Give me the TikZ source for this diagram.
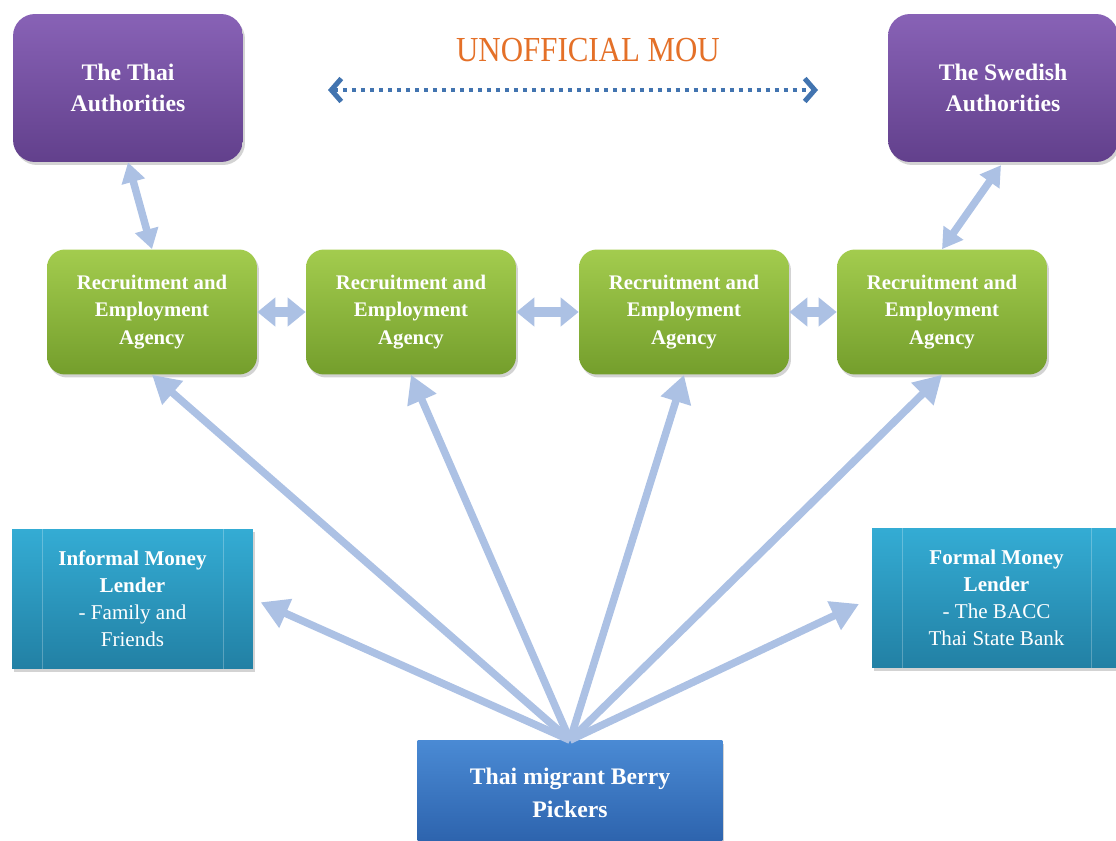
\documentclass[tikz,border=0pt]{standalone}
\usepackage{fontspec}
\setmainfont{Liberation Serif}
\usetikzlibrary{arrows.meta, shadows}

\definecolor{authtop}{RGB}{136,98,182}
\definecolor{authbot}{RGB}{98,64,140}
\definecolor{agtop}{RGB}{163,204,78}
\definecolor{agbot}{RGB}{116,158,44}
\definecolor{lendtop}{RGB}{52,172,212}
\definecolor{lendbot}{RGB}{34,128,164}
\definecolor{picktop}{RGB}{74,138,212}
\definecolor{pickbot}{RGB}{44,98,172}
\definecolor{linkblue}{RGB}{172,193,228}
\definecolor{moublue}{RGB}{66,116,176}
\definecolor{mouorange}{RGB}{228,112,40}

\begin{document}
\begin{tikzpicture}[
    x=0.02cm, y=-0.02cm,
    shade/.style={drop shadow={shadow xshift=0.04cm, shadow yshift=-0.06cm, opacity=.35}},
    auth/.style={rectangle, rounded corners=0.44cm, top color=authtop, bottom color=authbot,
                 minimum width=4.6cm, minimum height=2.96cm, align=center, text=white,
                 font=\fontsize{13.5}{17.6}\selectfont\bfseries, shade},
    agency/.style={rectangle, rounded corners=0.36cm, top color=agtop, bottom color=agbot,
                   minimum width=4.2cm, minimum height=2.5cm, align=center, text=white,
                   font=\fontsize{11.8}{15.6}\selectfont\bfseries, shade},
    lender/.style={rectangle, top color=lendtop, bottom color=lendbot,
                   minimum height=2.8cm, align=center, text=white,
                   font=\fontsize{12}{15.4}\selectfont, shade,
                   path picture={\draw[white, opacity=.25, line width=0.5pt]
                     ([xshift=0.6cm]path picture bounding box.north west) -- ([xshift=0.6cm]path picture bounding box.south west)
                     ([xshift=-0.6cm]path picture bounding box.north east) -- ([xshift=-0.6cm]path picture bounding box.south east);}},
    picker/.style={rectangle, top color=picktop, bottom color=pickbot,
                   minimum width=6.1cm, minimum height=2.1cm, align=center, text=white,
                   font=\fontsize{13.5}{18.5}\selectfont\bfseries, shade},
    fan/.style={-{Triangle[width=0.6cm, length=0.55cm]}, line width=0.15cm, linkblue},
    duo/.style={{Triangle[width=0.56cm, length=0.36cm]}-{Triangle[width=0.56cm, length=0.36cm]},
                line width=0.2cm, linkblue},
    slant/.style={{Triangle[width=0.46cm, length=0.4cm]}-{Triangle[width=0.46cm, length=0.4cm]},
                  line width=0.15cm, linkblue},
    mou/.style={{Straight Barb[length=0.2cm, width=0.46cm, line width=0.1cm]}-{Straight Barb[length=0.2cm, width=0.46cm, line width=0.1cm]},
                line width=0.09cm, moublue, dash pattern=on 0.09cm off 0.09cm}
]
  \useasboundingbox (0,0) rectangle (1116,841);

  % top row: the two authorities
  \node[auth] (thai) at (128,88) {The Thai\\Authorities};
  \node[auth] (swede) at (1003,88) {The Swedish\\Authorities};

  % unofficial link between them
  \node[text=mouorange, font=\fontsize{20}{24}\selectfont] (label) at (588,50) {\scalebox{0.88}[1]{UNOFFICIAL MOU}};
  \coordinate (mouw) at (328,90);
  \coordinate (moue) at (818,90);
  \draw[mou] (mouw) -- (moue);

  % middle row: agencies
  \node[agency] (ag1) at (152,312) {Recruitment and\\Employment\\Agency};
  \node[agency] (ag2) at (411,312) {Recruitment and\\Employment\\Agency};
  \node[agency] (ag3) at (684,312) {Recruitment and\\Employment\\Agency};
  \node[agency] (ag4) at (942,312) {Recruitment and\\Employment\\Agency};

  % money lenders
  \node[lender, minimum width=4.82cm] (informal) at (132.5,599) {\textbf{Informal Money}\\\textbf{Lender}\\- Family and\\Friends};
  \node[lender, minimum width=4.98cm] (formal) at (996.5,598) {\textbf{Formal Money}\\\textbf{Lender}\\- The BACC\\Thai State Bank};

  % bottom: the pickers
  \node[picker] (pick) at (570,793) {Thai migrant Berry\\Pickers};
  \coordinate (hub) at (pick.north);

  % links
  \draw[duo] (ag1.east) -- (ag2.west);
  \draw[duo] (ag2.east) -- (ag3.west);
  \draw[duo] (ag3.east) -- (ag4.west);
  \draw[slant] (thai.south) -- (ag1.north);
  \draw[slant, shorten >=2pt] (ag4.north) -- (swede.south);

  \foreach \t in {ag1, ag2, ag3, ag4}
    \draw[fan] (hub) -- (\t.south);
  \draw[fan, shorten >=0.16cm] (hub) -- (informal.east);
  \draw[fan, shorten >=0.28cm] (hub) -- (formal.west);
\end{tikzpicture}
\end{document}
